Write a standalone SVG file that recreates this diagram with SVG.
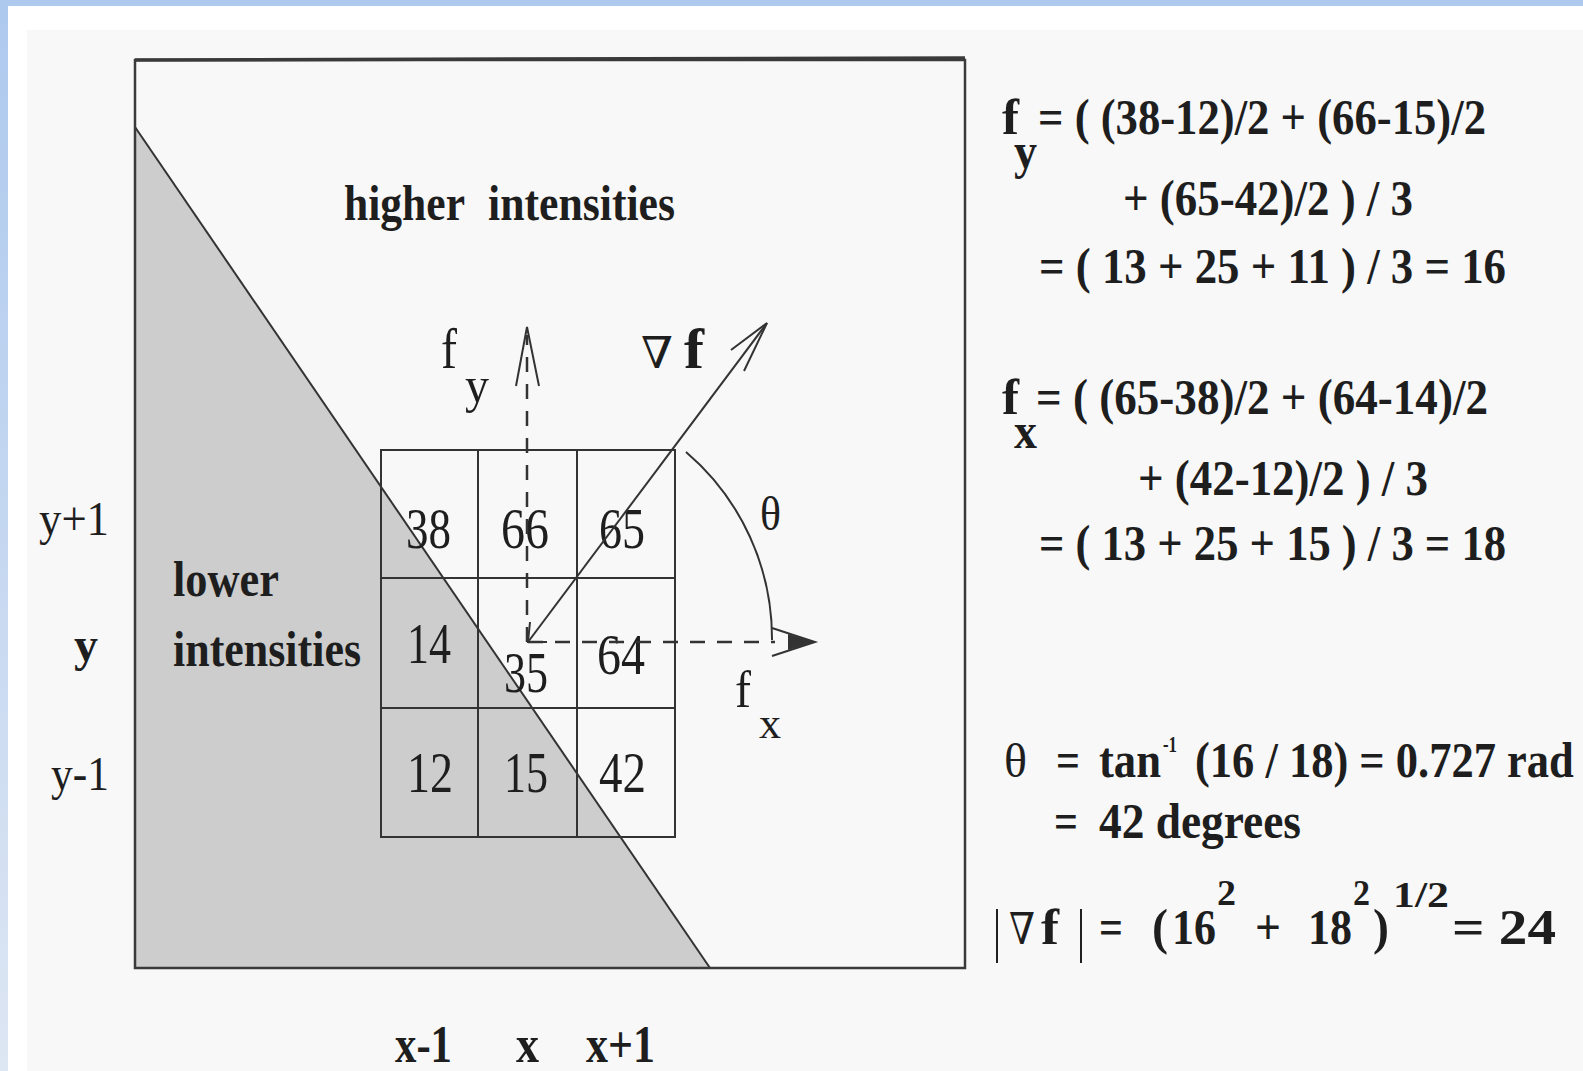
<svg xmlns="http://www.w3.org/2000/svg" width="1583" height="1071" viewBox="0 0 1583 1071">
<defs>
<linearGradient id="lb" x1="0" y1="0" x2="0" y2="1">
<stop offset="0" stop-color="#adc9ee"/>
<stop offset="1" stop-color="#dde6f3"/>
</linearGradient>
<style>
.t{font-family:"Liberation Serif","DejaVu Serif",serif;fill:#1e1e1e;}
.b{font-weight:bold;}
.ln{stroke:#333;stroke-width:2;fill:none;}
.dash{stroke:#333;stroke-width:2.5;fill:none;stroke-dasharray:15 12;}
</style>
</defs>
<rect x="0" y="0" width="1583" height="1071" fill="#ffffff"/>
<rect x="27" y="30" width="1556" height="1041" fill="#f8f8f8"/>
<rect x="0" y="0" width="1583" height="6" fill="#adc9ee"/>
<rect x="0" y="0" width="8" height="1071" fill="url(#lb)"/>

<g id="image-box">
<polygon points="135,127 135,968 710,968" fill="#cdcdcd"/>
<line x1="135" y1="127" x2="710" y2="968" class="ln"/>
<rect x="135" y="60" width="830" height="908" fill="none" stroke="#3a3a3a" stroke-width="2.5"/>
<line x1="135" y1="60" x2="965" y2="58" stroke="#3a3a3a" stroke-width="3.5"/>
</g>

<g id="grid">
<rect x="381" y="450" width="294" height="387" class="ln"/>
<line x1="478" y1="450" x2="478" y2="837" class="ln"/>
<line x1="577" y1="450" x2="577" y2="837" class="ln"/>
<line x1="381" y1="578" x2="675" y2="578" class="ln"/>
<line x1="381" y1="708" x2="675" y2="708" class="ln"/>
<g class="t" font-size="58">
<text x="406" y="548" textLength="45" lengthAdjust="spacingAndGlyphs">38</text>
<text x="501" y="548" textLength="48" lengthAdjust="spacingAndGlyphs">66</text>
<text x="599" y="548" textLength="46" lengthAdjust="spacingAndGlyphs">65</text>
<text x="407" y="663" textLength="44" lengthAdjust="spacingAndGlyphs">14</text>
<text x="504" y="692" textLength="44" lengthAdjust="spacingAndGlyphs">35</text>
<text x="597" y="674" textLength="48" lengthAdjust="spacingAndGlyphs">64</text>
<text x="407" y="792" textLength="46" lengthAdjust="spacingAndGlyphs">12</text>
<text x="504" y="792" textLength="44" lengthAdjust="spacingAndGlyphs">15</text>
<text x="599" y="792" textLength="47" lengthAdjust="spacingAndGlyphs">42</text>
</g>
</g>

<g id="region-labels" class="t b" font-size="50">
<text x="344" y="220" textLength="121" lengthAdjust="spacingAndGlyphs">higher</text>
<text x="488" y="220" textLength="187" lengthAdjust="spacingAndGlyphs">intensities</text>
<text x="173" y="596" textLength="106" lengthAdjust="spacingAndGlyphs">lower</text>
<text x="173" y="666" textLength="188" lengthAdjust="spacingAndGlyphs">intensities</text>
</g>

<g id="axis-labels" class="t" font-size="48">
<text x="39" y="535" textLength="70" lengthAdjust="spacingAndGlyphs">y+1</text>
<text x="74" y="661" class="b" textLength="24" lengthAdjust="spacingAndGlyphs">y</text>
<text x="51" y="790" textLength="58" lengthAdjust="spacingAndGlyphs">y-1</text>
<g class="b" font-size="52">
<text x="395" y="1062" textLength="57" lengthAdjust="spacingAndGlyphs">x-1</text>
<text x="516" y="1062" textLength="23" lengthAdjust="spacingAndGlyphs">x</text>
<text x="586" y="1062" textLength="69" lengthAdjust="spacingAndGlyphs">x+1</text>
</g>
</g>

<g id="connectors">
<line x1="527" y1="642" x2="527" y2="335" class="dash"/>
<path d="M516,386 L527,327 L539,386" class="ln" stroke-width="2.5"/>
<line x1="528" y1="642" x2="775" y2="642" class="dash"/>
<path d="M772,628 L815,642 L772,656" class="ln" stroke-width="2.5"/>
<path d="M788,634 L815,642 L788,650 Z" fill="#333"/>
<line x1="528" y1="642" x2="767" y2="323" class="ln" stroke-width="2.5"/>
<path d="M731,350 L767,323 L744,371" class="ln" stroke-width="2.5"/>
<path d="M547,642 L528,642 L530,622" class="ln" stroke-width="2.5"/>
<path d="M686,452 A245,245 0 0 1 772,640" class="ln"/>
</g>

<g id="vector-labels" class="t">
<text x="441" y="368" font-size="56" textLength="16" lengthAdjust="spacingAndGlyphs">f</text>
<text x="465" y="402" font-size="50" textLength="24" lengthAdjust="spacingAndGlyphs">y</text>
<text x="641" y="368" font-size="44" textLength="32" lengthAdjust="spacingAndGlyphs">∇</text>
<text x="684" y="368" font-size="56" class="b" textLength="20" lengthAdjust="spacingAndGlyphs">f</text>
<text x="735" y="707" font-size="52" textLength="16" lengthAdjust="spacingAndGlyphs">f</text>
<text x="759" y="738" font-size="44" textLength="22" lengthAdjust="spacingAndGlyphs">x</text>
<text x="760" y="530" font-size="48" textLength="21" lengthAdjust="spacingAndGlyphs">θ</text>
</g>

<g id="equation-fy" class="t b" font-size="50">
<text x="1002" y="134" textLength="17" lengthAdjust="spacingAndGlyphs">f</text>
<text x="1014" y="168" textLength="23" lengthAdjust="spacingAndGlyphs">y</text>
<text x="1038" y="134" textLength="448" lengthAdjust="spacingAndGlyphs">= ( (38-12)/2 + (66-15)/2</text>
<text x="1123" y="215" textLength="290" lengthAdjust="spacingAndGlyphs">+ (65-42)/2 ) / 3</text>
<text x="1039" y="283" textLength="467" lengthAdjust="spacingAndGlyphs">= ( 13 + 25 + 11 ) / 3 = 16</text>
</g>

<g id="equation-fx" class="t b" font-size="50">
<text x="1002" y="414" textLength="17" lengthAdjust="spacingAndGlyphs">f</text>
<text x="1014" y="448" textLength="23" lengthAdjust="spacingAndGlyphs">x</text>
<text x="1036" y="414" textLength="452" lengthAdjust="spacingAndGlyphs">= ( (65-38)/2 + (64-14)/2</text>
<text x="1138" y="495" textLength="290" lengthAdjust="spacingAndGlyphs">+ (42-12)/2 ) / 3</text>
<text x="1039" y="560" textLength="467" lengthAdjust="spacingAndGlyphs">= ( 13 + 25 + 15 ) / 3 = 18</text>
</g>

<g id="equation-theta" class="t" font-size="50">
<text x="1004" y="777" font-size="48" textLength="23" lengthAdjust="spacingAndGlyphs">θ</text>
<text x="1056" y="777" class="b" textLength="24" lengthAdjust="spacingAndGlyphs">=</text>
<text x="1099" y="777" class="b" textLength="62" lengthAdjust="spacingAndGlyphs">tan</text>
<text x="1163" y="752" class="b" font-size="24" textLength="14" lengthAdjust="spacingAndGlyphs">-1</text>
<text transform="translate(1195,777) scale(0.89,1)" class="b" font-size="50">(16 / 18) = 0.727 rad</text>
<text x="1054" y="838" class="b" textLength="24" lengthAdjust="spacingAndGlyphs">=</text>
<text x="1099" y="838" class="b" textLength="202" lengthAdjust="spacingAndGlyphs">42 degrees</text>
</g>

<g id="equation-magnitude" class="t" font-size="50">
<text x="993" y="950" font-size="60" textLength="8" lengthAdjust="spacingAndGlyphs">|</text>
<text x="1009" y="944" font-size="44" textLength="26" lengthAdjust="spacingAndGlyphs">∇</text>
<text x="1041" y="944" class="b" textLength="18" lengthAdjust="spacingAndGlyphs">f</text>
<text x="1077" y="950" font-size="60" textLength="8" lengthAdjust="spacingAndGlyphs">|</text>
<text x="1099" y="944" class="b" textLength="24" lengthAdjust="spacingAndGlyphs">=</text>
<text x="1152" y="944" class="b" textLength="16" lengthAdjust="spacingAndGlyphs">(</text>
<text x="1172" y="944" class="b" textLength="44" lengthAdjust="spacingAndGlyphs">16</text>
<text x="1217" y="905" class="b" font-size="36" textLength="19" lengthAdjust="spacingAndGlyphs">2</text>
<text x="1255" y="944" class="b" textLength="26" lengthAdjust="spacingAndGlyphs">+</text>
<text x="1308" y="944" class="b" textLength="44" lengthAdjust="spacingAndGlyphs">18</text>
<text x="1353" y="905" class="b" font-size="36" textLength="17" lengthAdjust="spacingAndGlyphs">2</text>
<text x="1373" y="944" class="b" textLength="16" lengthAdjust="spacingAndGlyphs">)</text>
<text x="1393" y="907" class="b" font-size="36" textLength="56" lengthAdjust="spacingAndGlyphs">1/2</text>
<text x="1452" y="944" class="b" textLength="104" lengthAdjust="spacingAndGlyphs">=  24</text>
</g>
</svg>
